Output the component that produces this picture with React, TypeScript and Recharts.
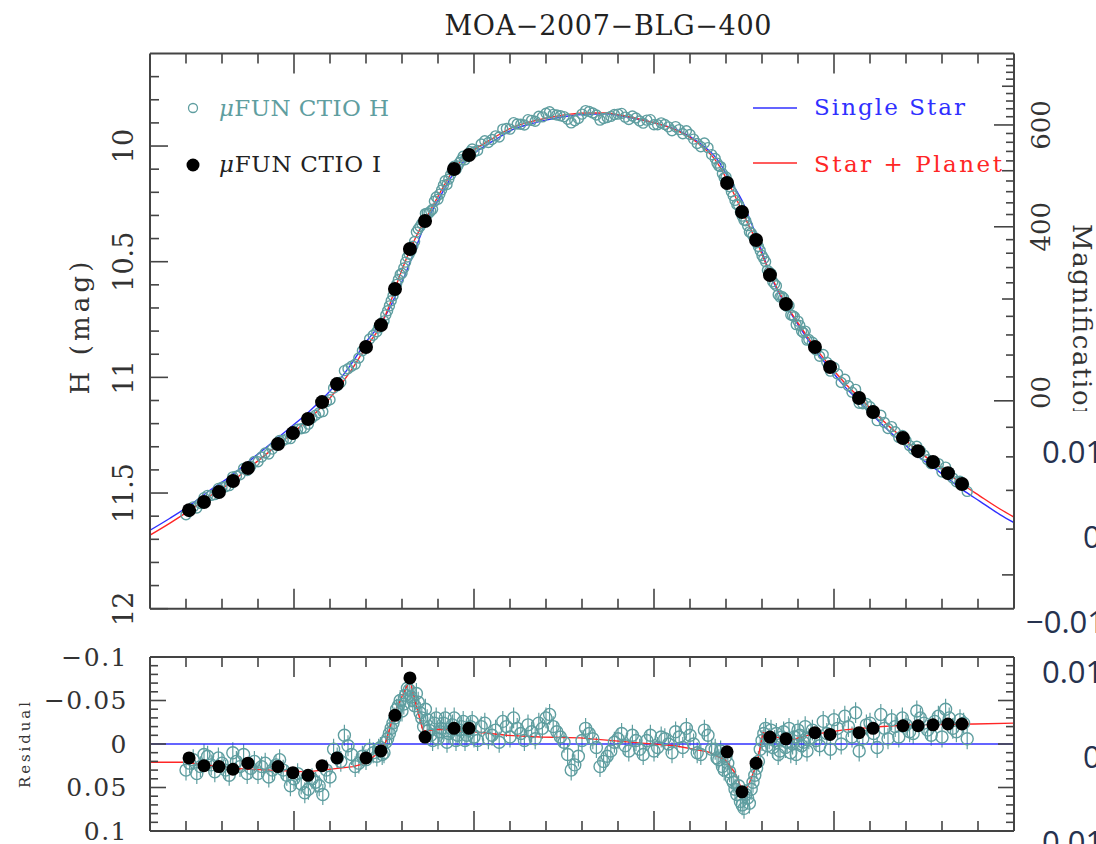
import React from "react";
import {
  ComposedChart,
  Scatter,
  Line,
  XAxis,
  YAxis,
  ReferenceLine,
  ErrorBar,
} from "recharts";

const TEAL = "#5f9ea0";
const BLUE = "#3030ff";
const RED = "#ff2626";
const INK = "#444";
const SERIF = "'DejaVu Serif', serif";

// muFUN CTIO H observations: time (HJD - 2454348), H mag, residual to single-lens fit
const hTimes = [
  0.14, 0.144, 0.148, 0.152, 0.156, 0.16, 0.164, 0.168, 0.172, 0.176, 0.18, 0.184, 0.188, 0.192,
  0.196, 0.2, 0.204, 0.208, 0.212, 0.216, 0.22, 0.224, 0.228, 0.232, 0.236, 0.24, 0.244,
  0.246, 0.248, 0.25, 0.252, 0.254, 0.256, 0.258, 0.26, 0.262, 0.264, 0.266, 0.268, 0.27, 0.272,
  0.274, 0.276, 0.278, 0.28, 0.282, 0.284, 0.286, 0.288, 0.29, 0.292, 0.294, 0.296, 0.298, 0.3,
  0.304, 0.308, 0.312, 0.316, 0.32, 0.324, 0.328, 0.332, 0.336, 0.34, 0.344, 0.348, 0.352, 0.356,
  0.36, 0.364, 0.368, 0.372, 0.376, 0.38, 0.384, 0.388, 0.392, 0.396, 0.4, 0.404, 0.408, 0.412,
  0.416, 0.42, 0.424, 0.428, 0.432,
  0.434, 0.436, 0.438, 0.44, 0.442, 0.444, 0.446, 0.448, 0.45, 0.452, 0.454, 0.456, 0.458, 0.46,
  0.462, 0.464, 0.466, 0.468, 0.47, 0.472, 0.474, 0.476, 0.478, 0.48, 0.482, 0.484, 0.486,
  0.49, 0.494, 0.498, 0.502, 0.506, 0.51, 0.514, 0.518, 0.522, 0.526, 0.53, 0.534, 0.538, 0.542,
  0.546, 0.55, 0.554, 0.558, 0.562, 0.566, 0.57, 0.574,
];
const hMag = [
  11.594, 11.56, 11.545, 11.51, 11.507, 11.475, 11.468, 11.427, 11.394, 11.384, 11.365, 11.327,
  11.31, 11.273, 11.266, 11.244, 11.222, 11.202, 11.164, 11.148, 11.097, 11.036, 10.971, 10.952,
  10.916, 10.865, 10.818,
  10.803, 10.774, 10.756, 10.712, 10.669, 10.625, 10.577, 10.55, 10.502, 10.468, 10.433, 10.372,
  10.348, 10.326, 10.29, 10.281, 10.239, 10.23, 10.19, 10.15, 10.143, 10.106, 10.101, 10.071,
  10.044, 10.046, 10.024, 10.026,
  9.991, 9.985, 9.956, 9.927, 9.927, 9.905, 9.909, 9.889, 9.871, 9.858, 9.863, 9.869, 9.884,
  9.891, 9.862, 9.851, 9.866, 9.881, 9.872, 9.862, 9.875, 9.87, 9.892, 9.888, 9.908, 9.9, 9.917,
  9.916, 9.947, 9.95, 9.989, 9.987, 10.037,
  10.054, 10.086, 10.119, 10.134, 10.176, 10.215, 10.253, 10.285, 10.321, 10.344, 10.376, 10.402,
  10.434, 10.473, 10.5, 10.545, 10.587, 10.604, 10.653, 10.657, 10.694, 10.73, 10.738, 10.757,
  10.8, 10.8, 10.836,
  10.882, 10.901, 10.973, 10.985, 11.008, 11.064, 11.112, 11.113, 11.155, 11.164, 11.221, 11.235,
  11.251, 11.295, 11.298, 11.336, 11.373, 11.373, 11.388, 11.435, 11.449, 11.493,
];
const hResid = [
  0.03, 0.018, 0.026, 0.014, 0.032, 0.022, 0.036, 0.02, 0.012, 0.028, 0.034, 0.022, 0.03, 0.018,
  0.036, 0.04, 0.046, 0.052, 0.044, 0.058, 0.038, 0.016, -0.01, 0.012, 0.022, 0.018, 0.01,
  0.014, 0.004, 0.01, -0.006, -0.018, -0.03, -0.044, -0.038, -0.056, -0.062, -0.05, -0.058,
  -0.036, -0.02, -0.028, -0.01, -0.024, -0.006, -0.018, -0.03, -0.012, -0.022, -0.004, -0.016,
  -0.026, -0.01, -0.02, -0.008,
  -0.02, -0.006, -0.016, -0.026, -0.008, -0.018, -0.004, -0.014, -0.024, -0.03, -0.02, -0.008,
  0.012, 0.024, -0.004, -0.012, 0.004, 0.02, 0.008, -0.006, 0.002, -0.01, 0.006, -0.004, 0.008,
  -0.008, 0.0, -0.014, 0.004, -0.01, 0.01, -0.016, 0.006,
  0.006, 0.018, 0.026, 0.014, 0.032, 0.044, 0.058, 0.066, 0.074, 0.062, 0.052, 0.036, 0.02,
  -0.004, -0.018, -0.006, 0.004, -0.012, 0.008, -0.014, -0.002, 0.01, -0.008, -0.016, 0.002,
  -0.02, -0.006,
  -0.004, -0.026, 0.006, -0.018, -0.032, -0.008, 0.008, -0.022, -0.012, -0.034, -0.006, -0.02,
  -0.03, -0.014, -0.038, -0.024, -0.01, -0.032, -0.04, -0.018, -0.028, -0.006,
];

// the interleaved exposures of the same H run
const hTimes2 = [
  0.142, 0.146, 0.15, 0.154, 0.158, 0.162, 0.166, 0.17, 0.174, 0.178, 0.182, 0.186, 0.19, 0.194,
  0.198, 0.202, 0.206, 0.21, 0.214, 0.218, 0.222, 0.226, 0.23, 0.234, 0.238, 0.242,
  0.247, 0.249, 0.251, 0.253, 0.255, 0.257, 0.259, 0.261, 0.263, 0.265, 0.267, 0.269, 0.271,
  0.273, 0.275, 0.277, 0.279, 0.281, 0.283, 0.285, 0.287, 0.289, 0.291, 0.293, 0.295, 0.297, 0.299,
  0.302, 0.306, 0.31, 0.314, 0.318, 0.322, 0.326, 0.33, 0.334, 0.338, 0.342, 0.346, 0.35, 0.354,
  0.358, 0.362, 0.366, 0.37, 0.374, 0.378, 0.382, 0.386, 0.39, 0.394, 0.398, 0.402, 0.406, 0.41,
  0.414, 0.418, 0.422, 0.426, 0.43,
  0.435, 0.437, 0.439, 0.441, 0.443, 0.445, 0.447, 0.449, 0.451, 0.453, 0.455, 0.457, 0.459,
  0.461, 0.463, 0.465, 0.467, 0.469, 0.471, 0.473, 0.475, 0.477, 0.479, 0.481, 0.483, 0.485,
  0.488, 0.492, 0.496, 0.5, 0.504, 0.508, 0.512, 0.516, 0.52, 0.524, 0.528, 0.532, 0.536, 0.54,
  0.544, 0.548, 0.552, 0.556, 0.56, 0.564, 0.568, 0.572,
];
const hMag2 = [
  11.575, 11.565, 11.52, 11.51, 11.48, 11.473, 11.43, 11.421, 11.403, 11.364, 11.344, 11.331,
  11.292, 11.273, 11.265, 11.224, 11.219, 11.175, 11.153, 11.105, 11.046, 11.021, 10.963, 10.943,
  10.885, 10.834,
  10.786, 10.77, 10.73, 10.691, 10.647, 10.598, 10.555, 10.527, 10.48, 10.453, 10.413, 10.359,
  10.335, 10.292, 10.289, 10.273, 10.22, 10.208, 10.17, 10.166, 10.124, 10.087, 10.086, 10.059,
  10.059, 10.034, 10.013,
  10.019, 9.977, 9.972, 9.961, 9.924, 9.899, 9.906, 9.886, 9.893, 9.874, 9.852, 9.866, 9.873,
  9.9, 9.881, 9.847, 9.857, 9.888, 9.877, 9.864, 9.859, 9.885, 9.879, 9.901, 9.886, 9.908, 9.907,
  9.934, 9.929, 9.934, 9.97, 10.003, 10.007,
  10.074, 10.089, 10.137, 10.154, 10.198, 10.235, 10.255, 10.303, 10.323, 10.371, 10.389, 10.418,
  10.452, 10.486, 10.537, 10.551, 10.596, 10.643, 10.65, 10.688, 10.69, 10.733, 10.772, 10.776,
  10.807, 10.839,
  10.848, 10.909, 10.935, 10.957, 11.022, 11.036, 11.052, 11.114, 11.127, 11.187, 11.195, 11.213,
  11.26, 11.273, 11.311, 11.318, 11.356, 11.368, 11.409, 11.411, 11.451, 11.464,
];
const hResid2 = [
  0.022, 0.034, 0.012, 0.024, 0.016, 0.03, 0.01, 0.026, 0.034, 0.02, 0.026, 0.038, 0.024, 0.03,
  0.048, 0.034, 0.056, 0.04, 0.048, 0.03, 0.006, 0.02, 0.002, 0.026, 0.014, 0.006,
  0.006, 0.012, -0.002, -0.012, -0.024, -0.04, -0.05, -0.046, -0.064, -0.054, -0.044, -0.048,
  -0.03, -0.04, -0.016, -0.004, -0.03, -0.014, -0.024, -0.002, -0.018, -0.03, -0.01, -0.02,
  -0.004, -0.016, -0.026,
  -0.004, -0.024, -0.01, -0.002, -0.02, -0.03, -0.012, -0.022, -0.006, -0.018, -0.034, -0.014,
  -0.002, 0.03, 0.014, -0.018, -0.006, 0.026, 0.014, -0.002, -0.012, 0.008, -0.004, 0.012, -0.01,
  0.004, -0.006, 0.01, -0.008, -0.018, 0.0, 0.012, -0.01,
  0.016, 0.008, 0.03, 0.022, 0.04, 0.052, 0.048, 0.07, 0.058, 0.068, 0.044, 0.028, 0.006, -0.012,
  0.002, -0.016, -0.004, 0.012, -0.008, 0.004, -0.018, 0.0, 0.012, -0.01, -0.002, 0.008,
  -0.016, 0.002, -0.012, -0.028, 0.0, -0.02, -0.036, -0.006, -0.024, 0.004, -0.018, -0.028,
  -0.008, -0.022, -0.012, -0.03, -0.016, -0.026, -0.008, -0.03, -0.014, -0.024,
];
const H_ERR = 0.012;

// muFUN CTIO I observations
const iTimes = [
  0.1417, 0.15, 0.1583, 0.1661, 0.1744, 0.1911, 0.1994, 0.2078, 0.2156, 0.2239, 0.24, 0.2483,
  0.2561, 0.2644, 0.2728, 0.2889, 0.2972, 0.4406, 0.4489, 0.4567, 0.4644, 0.4733, 0.4894, 0.4978,
  0.5139, 0.5217, 0.5383, 0.5467, 0.555, 0.5633, 0.5711,
];
const iMag = [
  11.574, 11.539, 11.496, 11.448, 11.392, 11.288, 11.241, 11.18, 11.107, 11.029, 10.869, 10.774,
  10.618, 10.445, 10.324, 10.099, 10.039, 10.16, 10.285, 10.406, 10.558, 10.683, 10.869, 10.955,
  11.089, 11.15, 11.262, 11.319, 11.366, 11.414, 11.461,
];
const iResid = [
  0.016, 0.025, 0.026, 0.029, 0.022, 0.026, 0.033, 0.036, 0.025, 0.016, 0.016, 0.008, -0.033,
  -0.076, -0.008, -0.018, -0.018, 0.009, 0.055, 0.022, -0.008, -0.006, -0.013, -0.011, -0.013,
  -0.018, -0.021, -0.021, -0.022, -0.023, -0.023,
];

// model light curves
const modelTimes = [
  0.12, 0.1311, 0.1422, 0.1533, 0.1644, 0.1756, 0.1867, 0.1978, 0.2089, 0.22, 0.2311, 0.24,
  0.2483, 0.2506, 0.2533, 0.2561, 0.2589, 0.2617, 0.2644, 0.2672, 0.27, 0.2728, 0.2783, 0.2839,
  0.2889, 0.2933, 0.2978, 0.3033, 0.3117, 0.3217, 0.3311, 0.3406, 0.3533, 0.3628, 0.3728, 0.3811,
  0.3961, 0.4061, 0.4144, 0.4228, 0.4283, 0.4328, 0.4367, 0.4406, 0.445, 0.4489, 0.4533, 0.4567,
  0.4606, 0.4644, 0.4689, 0.4733, 0.4811, 0.4894, 0.4978, 0.5061, 0.5144, 0.5228, 0.5311, 0.5383,
  0.5467, 0.555, 0.5633, 0.5711, 0.5811, 0.5922, 0.6,
];
const singleMag = [
  11.661, 11.609, 11.553, 11.488, 11.429, 11.359, 11.289, 11.218, 11.144, 11.059,
  10.95, 10.847, 10.765, 10.736, 10.699, 10.652, 10.604, 10.556, 10.505, 10.45,
  10.392, 10.337, 10.259, 10.181, 10.115, 10.075, 10.045, 10.014, 9.973, 9.928,
  9.905, 9.887, 9.869, 9.863, 9.861, 9.869, 9.892, 9.912, 9.936, 9.973,
  10.005, 10.036, 10.075, 10.127, 10.183, 10.236, 10.318, 10.385, 10.47, 10.553,
  10.628, 10.688, 10.786, 10.88, 10.964, 11.041, 11.107, 11.174, 11.236, 11.284,
  11.341, 11.388, 11.437, 11.484, 11.536, 11.593, 11.628,
];
const planetMag = [
  11.682, 11.63, 11.574, 11.513, 11.457, 11.388, 11.319, 11.249, 11.176, 11.089,
  10.977, 10.869, 10.774, 10.735, 10.683, 10.618, 10.558, 10.501, 10.45, 10.402,
  10.359, 10.32, 10.242, 10.164, 10.099, 10.06, 10.03, 10.0, 9.961, 9.918,
  9.896, 9.879, 9.862, 9.857, 9.857, 9.866, 9.892, 9.913, 9.939, 9.978,
  10.013, 10.048, 10.091, 10.147, 10.216, 10.281, 10.354, 10.406, 10.48, 10.549,
  10.623, 10.683, 10.778, 10.869, 10.951, 11.025, 11.089, 11.154, 11.215, 11.262,
  11.319, 11.366, 11.414, 11.461, 11.513, 11.569, 11.604,
];
const residTimes = [
  0.12, 0.1394, 0.1661, 0.2072, 0.2328, 0.24, 0.2439, 0.2478, 0.2511, 0.255, 0.2594, 0.2644,
  0.2678, 0.2717, 0.2811, 0.2994, 0.3183, 0.3367, 0.3589, 0.3933, 0.4117, 0.43, 0.4394, 0.445,
  0.4489, 0.4522, 0.4572, 0.4606, 0.4672, 0.4767, 0.4856, 0.5044, 0.5228, 0.5411, 0.5783, 0.6,
];
const residPlanet = [
  0.021, 0.021, 0.028, 0.032, 0.026, 0.022, 0.015, 0.009, -0.003, -0.031, -0.052, -0.074,
  -0.045, -0.015, -0.017, -0.014, -0.01, -0.008, -0.007, -0.001, 0.002, 0.009, 0.018, 0.033,
  0.053, 0.049, 0.022, -0.013, -0.008, -0.005, -0.01, -0.016, -0.0195, -0.022, -0.023, -0.024,
];

// axis ticks
const xTicks = [
  0.14, 0.16, 0.18, 0.2, 0.22, 0.24, 0.26, 0.28, 0.3, 0.32, 0.34, 0.36, 0.38, 0.4, 0.42, 0.44,
  0.46, 0.48, 0.5, 0.52, 0.54, 0.56, 0.58,
];
const hTicks = [
  9.7, 9.8, 9.9, 10, 10.1, 10.2, 10.3, 10.4, 10.5, 10.6, 10.7, 10.8, 10.9, 11, 11.1, 11.2, 11.3,
  11.4, 11.5, 11.6, 11.7, 11.8, 11.9, 12,
];
const magTicks = [
  100, 120, 140, 160, 180, 200, 220, 240, 260, 280, 300, 320, 340, 360, 380, 400, 420, 440, 460,
  480, 500, 520, 540, 560, 580, 600, 620, 640, 660, 680, 700, 720, 740, 760, 780,
];
const magLabels = [200, 400, 600];
const residTicks = [
  -0.1, -0.09, -0.08, -0.07, -0.06, -0.05, -0.04, -0.03, -0.02, -0.01, 0, 0.01, 0.02, 0.03, 0.04,
  0.05, 0.06, 0.07, 0.08, 0.09, 0.1,
];
const residLabels = [-0.1, -0.05, 0, 0.05, 0.1];

const hData = [
  ...hTimes.map((t, i) => ({ t, h: hMag[i] })),
  ...hTimes2.map((t, i) => ({ t, h: hMag2[i] })),
];
const hResidData = [
  ...hTimes.map((t, i) => ({ t, r: hResid[i], e: H_ERR })),
  ...hTimes2.map((t, i) => ({ t, r: hResid2[i], e: H_ERR })),
];
const iData = iTimes.map((t, i) => ({ t, h: iMag[i] }));
const iResidData = iTimes.map((t, i) => ({ t, r: iResid[i] }));
const singleData = modelTimes.map((t, i) => ({ t, h: singleMag[i] }));
const planetData = modelTimes.map((t, i) => ({ t, h: planetMag[i] }));
const residModelData = residTimes.map((t, i) => ({ t, r: residPlanet[i] }));

const near = (a: number, b: number) => Math.abs(a - b) < 1e-6;
const isMajorX = (v: number) => near(v * 10, Math.round(v * 10));
const fmtResid = (v: number) => (near(v, 0) ? "0" : v < 0 ? "\u2212" + Math.abs(v) : String(v));

const BottomTick = ({ x, y, payload }: any) => {
  const len = isMajorX(payload.value) ? 20 : 10;
  return <line x1={x} x2={x} y1={y} y2={y - len} stroke={INK} strokeWidth={1.6} />;
};
const TopTick = ({ x, y, payload }: any) => {
  const len = isMajorX(payload.value) ? 20 : 10;
  return <line x1={x} x2={x} y1={y} y2={y + len} stroke={INK} strokeWidth={1.6} />;
};

const HTick = ({ x, y, payload }: any) => {
  const v = payload.value;
  const major = near(v * 2, Math.round(v * 2));
  const lx = x - 26;
  return (
    <g>
      <line x1={x} x2={x + (major ? 18 : 9)} y1={y} y2={y} stroke={INK} strokeWidth={1.6} />
      {major && (
        <text
          x={lx}
          y={y}
          transform={`rotate(-90 ${lx} ${y})`}
          textAnchor="middle"
          dominantBaseline="central"
          fontFamily={SERIF}
          fontSize={27}
          fill="#333"
        >
          {v}
        </text>
      )}
    </g>
  );
};

const MagTick = ({ x, y, payload }: any) => {
  const v = payload.value;
  const long = magLabels.includes(v);
  const len = long ? 20 : v % 100 === 0 ? 12 : 8;
  const lx = x + 27;
  return (
    <g>
      <line x1={x} x2={x - len} y1={y} y2={y} stroke={INK} strokeWidth={1.6} />
      {long && (
        <text
          x={lx}
          y={y}
          transform={`rotate(-90 ${lx} ${y})`}
          textAnchor="middle"
          dominantBaseline="central"
          fontFamily={SERIF}
          fontSize={26}
          fill="#333"
        >
          {v}
        </text>
      )}
    </g>
  );
};

const ResidLeftTick = ({ x, y, payload }: any) => {
  const v = payload.value;
  const major = near(v * 20, Math.round(v * 20));
  const label = residLabels.find((l) => near(l, v));
  return (
    <g>
      <line x1={x} x2={x + (major ? 16 : 8)} y1={y} y2={y} stroke={INK} strokeWidth={1.6} />
      {label !== undefined && (
        <text
          x={x - 22}
          y={y}
          textAnchor="end"
          dominantBaseline="central"
          fontFamily={SERIF}
          fontSize={25}
          letterSpacing={1.5}
          fill="#333"
        >
          {fmtResid(v)}
        </text>
      )}
    </g>
  );
};
const ResidRightTick = ({ x, y, payload }: any) => {
  const v = payload.value;
  const major = near(v * 20, Math.round(v * 20));
  return <line x1={x} x2={x - (major ? 16 : 8)} y1={y} y2={y} stroke={INK} strokeWidth={1.6} />;
};

const openCircle = (r: number) => (p: any) =>
  <circle cx={p.cx} cy={p.cy} r={r} fill="none" stroke={TEAL} strokeWidth={1.4} />;
const filledDot = (r: number) => (p: any) => <circle cx={p.cx} cy={p.cy} r={r} fill="#000" />;

const axisLine = { stroke: INK, strokeWidth: 2 };

export default function App() {
  return (
    <div
      style={{
        position: "absolute",
        left: 0,
        top: 0,
        width: 1096,
        height: 844,
        background: "#fff",
        overflow: "hidden",
      }}
    >
      {/* light curve */}
      <div style={{ position: "absolute", left: 0, top: 0 }}>
        <ComposedChart width={1096} height={640} margin={{ top: 0, right: 0, bottom: 0, left: 0 }}>
          <XAxis
            xAxisId="b"
            type="number"
            dataKey="t"
            domain={[0.12, 0.6]}
            allowDataOverflow
            ticks={xTicks}
            interval={0}
            orientation="bottom"
            height={31.3}
            tickSize={0}
            tickMargin={0}
            tickLine={false}
            tick={BottomTick}
            axisLine={axisLine}
          />
          <XAxis
            xAxisId="t"
            type="number"
            dataKey="t"
            domain={[0.12, 0.6]}
            allowDataOverflow
            ticks={xTicks}
            interval={0}
            orientation="top"
            height={53.5}
            tickSize={0}
            tickMargin={0}
            tickLine={false}
            tick={TopTick}
            axisLine={axisLine}
          />
          <YAxis
            yAxisId="h"
            type="number"
            domain={[9.6, 12]}
            reversed
            allowDataOverflow
            ticks={hTicks}
            interval={0}
            width={150}
            tickSize={0}
            tickMargin={0}
            tickLine={false}
            tick={HTick}
            axisLine={axisLine}
          />
          <YAxis
            yAxisId="m"
            orientation="right"
            type="number"
            scale="log"
            domain={[87.4, 797.5]}
            allowDataOverflow
            ticks={magTicks}
            interval={0}
            width={82}
            tickSize={0}
            tickMargin={0}
            tickLine={false}
            tick={MagTick}
            axisLine={axisLine}
          />
          <Scatter
            xAxisId="b"
            yAxisId="h"
            data={hData}
            dataKey="h"
            shape={openCircle(5)}
            isAnimationActive={false}
          />
          <Line
            xAxisId="b"
            yAxisId="h"
            data={singleData}
            dataKey="h"
            type="monotone"
            stroke={BLUE}
            strokeWidth={1.4}
            dot={false}
            isAnimationActive={false}
          />
          <Line
            xAxisId="b"
            yAxisId="h"
            data={planetData}
            dataKey="h"
            type="monotone"
            stroke={RED}
            strokeWidth={1.4}
            dot={false}
            isAnimationActive={false}
          />
          <Scatter
            xAxisId="b"
            yAxisId="h"
            data={iData}
            dataKey="h"
            shape={filledDot(7)}
            isAnimationActive={false}
          />
        </ComposedChart>
      </div>

      {/* residuals */}
      <div style={{ position: "absolute", left: 0, top: 630 }}>
        <ComposedChart width={1096} height={214} margin={{ top: 0, right: 0, bottom: 0, left: 0 }}>
          <XAxis
            xAxisId="b"
            type="number"
            dataKey="t"
            domain={[0.12, 0.6]}
            allowDataOverflow
            ticks={xTicks}
            interval={0}
            orientation="bottom"
            height={13}
            tickSize={0}
            tickMargin={0}
            tickLine={false}
            tick={BottomTick}
            axisLine={axisLine}
          />
          <XAxis
            xAxisId="t"
            type="number"
            dataKey="t"
            domain={[0.12, 0.6]}
            allowDataOverflow
            ticks={xTicks}
            interval={0}
            orientation="top"
            height={27}
            tickSize={0}
            tickMargin={0}
            tickLine={false}
            tick={TopTick}
            axisLine={axisLine}
          />
          <YAxis
            yAxisId="r"
            type="number"
            domain={[-0.1, 0.1]}
            reversed
            allowDataOverflow
            ticks={residTicks}
            interval={0}
            width={150}
            tickSize={0}
            tickMargin={0}
            tickLine={false}
            tick={ResidLeftTick}
            axisLine={axisLine}
          />
          <YAxis
            yAxisId="r2"
            orientation="right"
            type="number"
            domain={[-0.1, 0.1]}
            reversed
            allowDataOverflow
            ticks={residTicks}
            interval={0}
            width={82}
            tickSize={0}
            tickMargin={0}
            tickLine={false}
            tick={ResidRightTick}
            axisLine={axisLine}
          />
          <Scatter
            xAxisId="b"
            yAxisId="r"
            data={hResidData}
            dataKey="r"
            shape={openCircle(6)}
            isAnimationActive={false}
          >
            <ErrorBar dataKey="e" direction="y" width={0} stroke={TEAL} strokeWidth={1.2} />
          </Scatter>
          <ReferenceLine xAxisId="b" yAxisId="r" y={0} stroke={BLUE} strokeWidth={1.5} />
          <Line
            xAxisId="b"
            yAxisId="r"
            data={residModelData}
            dataKey="r"
            type="linear"
            stroke={RED}
            strokeWidth={1.4}
            dot={false}
            isAnimationActive={false}
          />
          <Scatter
            xAxisId="b"
            yAxisId="r"
            data={iResidData}
            dataKey="r"
            shape={filledDot(6.5)}
            isAnimationActive={false}
          />
        </ComposedChart>
      </div>

      {/* titles, legend and the pasted-over right strip */}
      <svg
        width={1096}
        height={844}
        style={{ position: "absolute", left: 0, top: 0, pointerEvents: "none" }}
      >
        <g fontFamily={SERIF}>
          <text x={608} y={35} textAnchor="middle" fontSize={27} fill="#222" textLength={327} lengthAdjust="spacing">
            MOA{"\u2212"}2007{"\u2212"}BLG{"\u2212"}400
          </text>

          <circle cx={193} cy={108} r={4.5} fill="none" stroke={TEAL} strokeWidth={1.3} />
          <text x={219} y={116} fontSize={23} fill={TEAL} textLength={170} lengthAdjust="spacing">
            <tspan fontStyle="italic">μ</tspan>FUN CTIO H
          </text>
          <circle cx={193} cy={165} r={6.5} fill="#000" />
          <text x={219} y={172} fontSize={23} fill="#222" textLength={162} lengthAdjust="spacing">
            <tspan fontStyle="italic">μ</tspan>FUN CTIO I
          </text>
          <line x1={753} x2={797} y1={108} y2={108} stroke={BLUE} strokeWidth={1.4} />
          <text x={814} y={115} fontSize={23} fill={BLUE} textLength={151} lengthAdjust="spacing">
            Single Star
          </text>
          <line x1={753} x2={797} y1={163} y2={163} stroke={RED} strokeWidth={1.4} />
          <text x={814} y={172} fontSize={23} fill={RED} textLength={188} lengthAdjust="spacing">
            Star + Planet
          </text>

          <text
            x={80}
            y={328}
            transform="rotate(-90 80 328)"
            textAnchor="middle"
            dominantBaseline="central"
            fontSize={26}
            fill="#333"
            textLength={133}
            lengthAdjust="spacing"
          >
            H (mag)
          </text>
          <text
            x={25}
            y={745}
            transform="rotate(-90 25 745)"
            textAnchor="middle"
            dominantBaseline="central"
            fontSize={15}
            fill="#333"
            textLength={86}
            lengthAdjust="spacing"
          >
            Residual
          </text>
          <text
            x={1082}
            y={324}
            transform="rotate(90 1082 324)"
            textAnchor="middle"
            dominantBaseline="central"
            fontSize={26}
            fill="#333"
            textLength={200}
            lengthAdjust="spacing"
          >
            Magnification
          </text>
        </g>

        <rect x={1020} y={411} width={76} height={433} fill="#fff" />
        <g fontFamily="'Open Sans', sans-serif" fontSize={31} fill="#26324f">
          <text x={1042} y={463}>0.01</text>
          <text x={1083} y={548}>0</text>
          <text x={1026} y={633}>{"\u2212"}0.01</text>
          <text x={1042} y={683}>0.01</text>
          <text x={1083} y={768}>0</text>
          <text x={1042} y={853}>0.01</text>
        </g>
      </svg>
    </div>
  );
}
